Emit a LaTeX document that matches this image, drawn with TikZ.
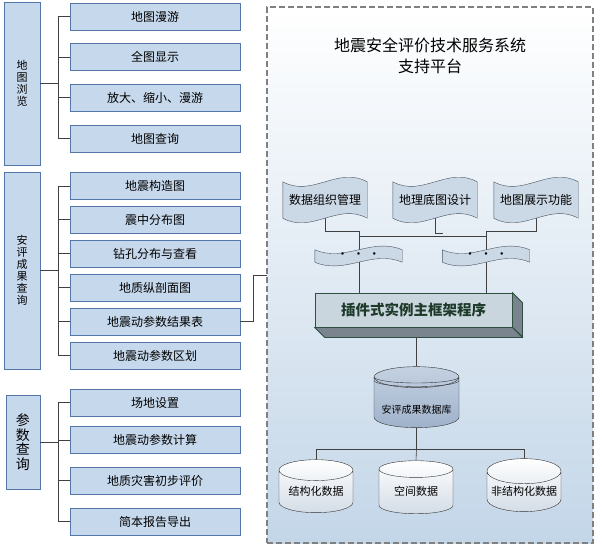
\documentclass[tikz,border=0pt]{standalone}
\usepackage{fontspec}
\setmainfont{Noto Sans CJK SC}
\usetikzlibrary{shapes.geometric}

\definecolor{boxfill}{HTML}{C6D8EC}
\definecolor{boxedge}{HTML}{5576A8}
\definecolor{treeline}{HTML}{404040}
\definecolor{platedge}{HTML}{808080}
\definecolor{platbot}{HTML}{C3D6E8}
\definecolor{wavefill}{HTML}{CBD8E6}
\definecolor{waveedge}{HTML}{4A5462}
\definecolor{framefill}{HTML}{CAD6DE}
\definecolor{frameedge}{HTML}{2F5040}
\definecolor{frameside}{HTML}{7A848E}
\definecolor{frametext}{HTML}{1E3A2A}
\definecolor{dbtop}{HTML}{C4D1E2}
\definecolor{dbbot}{HTML}{9FB2CA}
\definecolor{cylbot}{HTML}{D3DCE6}

\pgfdeclarelayer{back}
\pgfdeclarelayer{lines}
\pgfdeclarelayer{shapes}
\pgfsetlayers{back,lines,shapes,main}

% wavy flag outline round a node: name, width, bend
\newcommand{\flagoutline}[3]{%
    \filldraw[draw=waveedge, fill=wavefill] (#1.north west) .. controls +(#2*0.35,#3) and +(-#2*0.35,-#3) .. (#1.north east)
        -- (#1.south east) .. controls +(-#2*0.35,-#3) and +(#2*0.35,#3) .. (#1.south west) -- cycle;%
}

\begin{document}
\begin{tikzpicture}[
        x=1pt, y=-1pt,
        every node/.style={font=\fontsize{12}{14}\selectfont},
        itembox/.style={rectangle, draw=boxedge, thick, fill=boxfill, minimum width=170pt, minimum height=27pt, inner sep=0pt},
        groupbox/.style={rectangle, draw=boxedge, thick, fill=boxfill, minimum width=36pt, inner sep=0pt, align=center, font=\fontsize{11}{12}\selectfont},
        tree/.style={draw=treeline, semithick},
        platbox/.style={rectangle, draw=platedge, line width=1.1pt, dash pattern=on 6pt off 3pt, top color=white, bottom color=platbot},
        flagbox/.style={rectangle, minimum width=84pt, minimum height=36pt, inner sep=0pt},
        dotflag/.style={rectangle, minimum width=87pt, minimum height=12pt, inner sep=0pt},
        dbcyl/.style={cylinder, shape border rotate=90, draw=black!80, top color=dbtop, bottom color=dbbot, minimum width=85pt, minimum height=61pt, aspect=0.3, inner sep=0pt, align=center, font=\fontsize{10}{12}\selectfont},
        datacyl/.style={cylinder, shape border rotate=90, draw=black!80, top color=white, bottom color=cylbot, minimum width=74pt, minimum height=53pt, aspect=0.38, inner sep=0pt, font=\fontsize{11}{12}\selectfont}
        ]
        \useasboundingbox (0,0) rectangle (602,544);

        % Left column: map browsing
        \node[groupbox, minimum height=163pt] (g1) at (22,83.5) {地\\图\\浏\\览};
        \node[itembox] (c11) at (155,16.5) {地图漫游};
        \node[itembox] (c12) at (155,57) {全图显示};
        \node[itembox] (c13) at (155,97.5) {放大、缩小、漫游};
        \node[itembox] (c14) at (155,138.5) {地图查询};

        % Left column: results query
        \node[groupbox, minimum height=197pt] (g2) at (22,270.5) {安\\评\\成\\果\\查\\询};
        \node[itembox] (c21) at (155,186) {地震构造图};
        \node[itembox] (c22) at (155,219.5) {震中分布图};
        \node[itembox] (c23) at (155,253.5) {钻孔分布与查看};
        \node[itembox] (c24) at (155,287.5) {地质纵剖面图};
        \node[itembox] (c25) at (155,321.5) {地震动参数结果表};
        \node[itembox] (c26) at (155,355.5) {地震动参数区划};

        % Left column: parameter query
        \node[groupbox, minimum width=34pt, minimum height=94pt, font=\fontsize{14}{14.5}\selectfont] (g3) at (23,442) {参\\数\\查\\询};
        \node[itembox] (c31) at (155,402.5) {场地设置};
        \node[itembox] (c32) at (155,440) {地震动参数计算};
        \node[itembox] (c33) at (155,480.5) {地质灾害初步评价};
        \node[itembox] (c34) at (155,521.5) {简本报告导出};

        \foreach \c in {c11,c12,c13,c14}
            \draw[tree] (g1.east) -- ++(18,0) |- (\c.west);
        \foreach \c in {c21,c22,c23,c24,c25,c26}
            \draw[tree] (g2.east) -- ++(18,0) |- (\c.west);
        \foreach \c in {c31,c32,c33,c34}
            \draw[tree] (g3.east) -- ++(18,0) |- (\c.west);

        % Support platform frame
        \begin{pgfonlayer}{back}
            \node[platbox, minimum width=326pt, minimum height=536pt] (platform) at (430,275) {};
        \end{pgfonlayer}
        \coordinate (platin) at (267,275);
        \draw[tree] (c25.east) -- ++(13,0) |- (platin);

        \node[font=\fontsize{16}{21}\selectfont, align=center] (title) at (430,55.5) {地震安全评价技术服务系统\\支持平台};

        % Plug-in modules
        \node[flagbox] (d1) at (325,200) {数据组织管理};
        \node[flagbox] (d2) at (435,200) {地理底图设计};
        \node[flagbox] (d3) at (536,200) {地图展示功能};
        \node[dotflag] (e1) at (358.5,256) {·\hspace{4pt}·\hspace{4pt}·};
        \node[dotflag] (e2) at (486,256) {·\hspace{4pt}·\hspace{4pt}·};
        \begin{pgfonlayer}{shapes}
            \flagoutline{d1}{84}{16}
            \flagoutline{d2}{84}{16}
            \flagoutline{d3}{84}{16}
            \flagoutline{e1}{87}{13}
            \flagoutline{e2}{87}{13}
        \end{pgfonlayer}

        % Main framework block
        \node[rectangle, draw=frameedge, thick, fill=framefill, minimum width=197pt, minimum height=34pt, font=\fontsize{14.5}{16}\selectfont\bfseries, text=frametext] (frame) at (413.5,310) {插件式实例主框架程序};
        \filldraw[fill=frameside, draw=frameedge, thick] (frame.north east) -- ++(10,10) -- ++(0,34) -- (frame.south east) -- cycle;
        \filldraw[fill=frameside, draw=frameedge, thick] (frame.south west) -- (frame.south east) -- ++(10,10) -- ([shift={(10,10)}]frame.south west) -- cycle;

        % Databases
        \node[dbcyl] (db) at (416.5,402.5) {\mbox{}\\[11pt]安评成果数据库};
        \draw[black!80] (374,377) arc[start angle=180, end angle=360, x radius=42.5pt, y radius=6pt];
        \draw[black!80] (374,380.5) arc[start angle=180, end angle=360, x radius=42.5pt, y radius=6pt];
        \node[datacyl] (s1) at (316,491.5) {结构化数据};
        \node[datacyl] (s2) at (416,491.5) {空间数据};
        \node[datacyl] (s3) at (524,491.5) {非结构化数据};

        \begin{pgfonlayer}{lines}
            \coordinate (j1) at (359,231);
            \coordinate (j2) at (486,231);
            \coordinate (j3) at (443,233);
            \coordinate (split) at (416.5,449);
            \draw[tree] (d1.south) |- (j1) -- (j1 |- frame.north);
            \draw[tree] (d3.south) |- (j2) -- (j2 |- frame.north);
            \draw[tree] (d2.south) |- (j3);
            \draw[tree] (359,236) -- (486,236);
            \draw[tree] (db.north |- frame.south) -- (db.north);
            \draw[tree] (db.south) -- (split);
            \draw[tree] (split) -| (s1.north);
            \draw[tree] (split) -- (s2.north);
            \draw[tree] (split) -| (s3.north);
        \end{pgfonlayer}

    \end{tikzpicture}
\end{document}
